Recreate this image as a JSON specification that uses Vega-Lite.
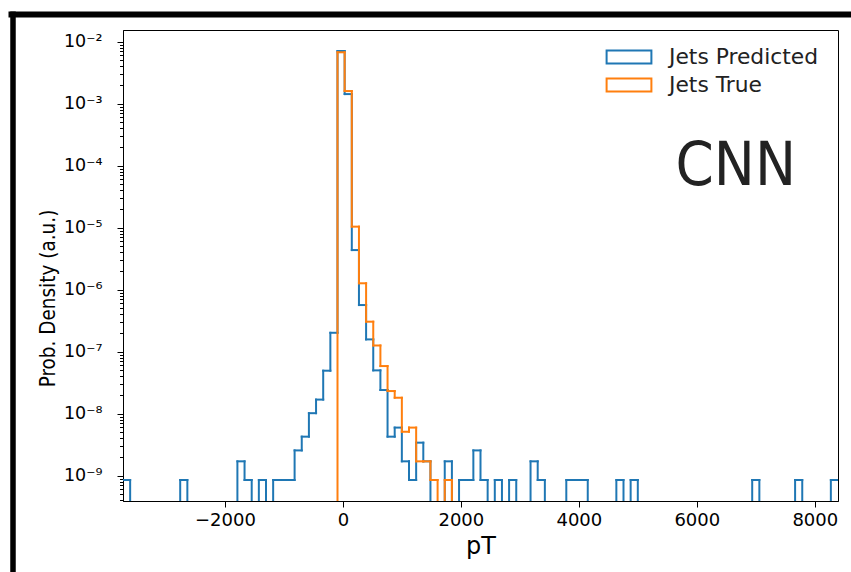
{
  "$schema": "https://vega.github.io/schema/vega-lite/v6.json",
  "autosize": "none",
  "width": 715,
  "height": 471,
  "padding": {"left": 123, "top": 30, "right": 13, "bottom": 71},
  "background": "white",
  "config": {
    "font": "DejaVu Sans",
    "view": {"stroke": "black", "strokeWidth": 1},
    "axis": {"domainColor": "black", "tickColor": "black", "labelColor": "black", "titleColor": "black", "grid": false, "labelFont": "DejaVu Sans", "titleFont": "DejaVu Sans", "titleFontWeight": "normal"},
    "legend": {"labelFont": "DejaVu Sans"}
  },
  "resolve": {"scale": {"x": "independent", "y": "independent"}},
  "layer": [
    {
      "layer": [
        {
          "data": {"values": [
            {"lo": -3727.0, "hi": -3605.8, "Jets Predicted": 8.53e-10, "Jets True": 0},
            {"lo": -3605.8, "hi": -3484.6, "Jets Predicted": 0, "Jets True": 0},
            {"lo": -3484.6, "hi": -3363.4, "Jets Predicted": 0, "Jets True": 0},
            {"lo": -3363.4, "hi": -3242.2, "Jets Predicted": 0, "Jets True": 0},
            {"lo": -3242.2, "hi": -3121.0, "Jets Predicted": 0, "Jets True": 0},
            {"lo": -3121.0, "hi": -2999.8, "Jets Predicted": 0, "Jets True": 0},
            {"lo": -2999.8, "hi": -2878.6, "Jets Predicted": 0, "Jets True": 0},
            {"lo": -2878.6, "hi": -2757.4, "Jets Predicted": 0, "Jets True": 0},
            {"lo": -2757.4, "hi": -2636.2, "Jets Predicted": 8.53e-10, "Jets True": 0},
            {"lo": -2636.2, "hi": -2515.0, "Jets Predicted": 0, "Jets True": 0},
            {"lo": -2515.0, "hi": -2393.8, "Jets Predicted": 0, "Jets True": 0},
            {"lo": -2393.8, "hi": -2272.6, "Jets Predicted": 0, "Jets True": 0},
            {"lo": -2272.6, "hi": -2151.4, "Jets Predicted": 0, "Jets True": 0},
            {"lo": -2151.4, "hi": -2030.2, "Jets Predicted": 0, "Jets True": 0},
            {"lo": -2030.2, "hi": -1909.0, "Jets Predicted": 0, "Jets True": 0},
            {"lo": -1909.0, "hi": -1787.8, "Jets Predicted": 0, "Jets True": 0},
            {"lo": -1787.8, "hi": -1666.6, "Jets Predicted": 1.706e-9, "Jets True": 0},
            {"lo": -1666.6, "hi": -1545.4, "Jets Predicted": 8.53e-10, "Jets True": 0},
            {"lo": -1545.4, "hi": -1424.2, "Jets Predicted": 0, "Jets True": 0},
            {"lo": -1424.2, "hi": -1303.0, "Jets Predicted": 8.53e-10, "Jets True": 0},
            {"lo": -1303.0, "hi": -1181.8, "Jets Predicted": 0, "Jets True": 0},
            {"lo": -1181.8, "hi": -1060.6, "Jets Predicted": 8.53e-10, "Jets True": 0},
            {"lo": -1060.6, "hi": -939.4, "Jets Predicted": 8.53e-10, "Jets True": 0},
            {"lo": -939.4, "hi": -818.2, "Jets Predicted": 8.53e-10, "Jets True": 0},
            {"lo": -818.2, "hi": -697.0, "Jets Predicted": 2.559e-9, "Jets True": 0},
            {"lo": -697.0, "hi": -575.8, "Jets Predicted": 4.265e-9, "Jets True": 0},
            {"lo": -575.8, "hi": -454.6, "Jets Predicted": 1.02e-8, "Jets True": 0},
            {"lo": -454.6, "hi": -333.4, "Jets Predicted": 1.69e-8, "Jets True": 0},
            {"lo": -333.4, "hi": -212.2, "Jets Predicted": 4.94e-8, "Jets True": 0},
            {"lo": -212.2, "hi": -91.0, "Jets Predicted": 2.02e-7, "Jets True": 0},
            {"lo": -91.0, "hi": 30.2, "Jets Predicted": 7.08e-3, "Jets True": 6.75e-3},
            {"lo": 30.2, "hi": 151.4, "Jets Predicted": 1.43e-3, "Jets True": 1.6e-3},
            {"lo": 151.4, "hi": 272.6, "Jets Predicted": 4.36e-6, "Jets True": 1.04e-5},
            {"lo": 272.6, "hi": 393.8, "Jets Predicted": 5.66e-7, "Jets True": 1.27e-6},
            {"lo": 393.8, "hi": 515.0, "Jets Predicted": 1.58e-7, "Jets True": 3.05e-7},
            {"lo": 515.0, "hi": 636.2, "Jets Predicted": 5.0e-8, "Jets True": 1.26e-7},
            {"lo": 636.2, "hi": 757.4, "Jets Predicted": 2.41e-8, "Jets True": 5.87e-8},
            {"lo": 757.4, "hi": 878.6, "Jets Predicted": 4.265e-9, "Jets True": 2.32e-8},
            {"lo": 878.6, "hi": 999.8, "Jets Predicted": 5.971e-9, "Jets True": 1.81e-8},
            {"lo": 999.8, "hi": 1121.0, "Jets Predicted": 1.706e-9, "Jets True": 5.118e-9},
            {"lo": 1121.0, "hi": 1242.2, "Jets Predicted": 8.53e-10, "Jets True": 5.971e-9},
            {"lo": 1242.2, "hi": 1363.4, "Jets Predicted": 3.412e-9, "Jets True": 1.706e-9},
            {"lo": 1363.4, "hi": 1484.6, "Jets Predicted": 1.706e-9, "Jets True": 1.706e-9},
            {"lo": 1484.6, "hi": 1605.8, "Jets Predicted": 0, "Jets True": 8.53e-10},
            {"lo": 1605.8, "hi": 1727.0, "Jets Predicted": 0, "Jets True": 0},
            {"lo": 1727.0, "hi": 1848.2, "Jets Predicted": 1.706e-9, "Jets True": 8.53e-10},
            {"lo": 1848.2, "hi": 1969.4, "Jets Predicted": 0, "Jets True": 0},
            {"lo": 1969.4, "hi": 2090.6, "Jets Predicted": 8.53e-10, "Jets True": 0},
            {"lo": 2090.6, "hi": 2211.8, "Jets Predicted": 8.53e-10, "Jets True": 0},
            {"lo": 2211.8, "hi": 2333.0, "Jets Predicted": 2.559e-9, "Jets True": 0},
            {"lo": 2333.0, "hi": 2454.2, "Jets Predicted": 8.53e-10, "Jets True": 0},
            {"lo": 2454.2, "hi": 2575.4, "Jets Predicted": 0, "Jets True": 0},
            {"lo": 2575.4, "hi": 2696.6, "Jets Predicted": 8.53e-10, "Jets True": 0},
            {"lo": 2696.6, "hi": 2817.8, "Jets Predicted": 0, "Jets True": 0},
            {"lo": 2817.8, "hi": 2939.0, "Jets Predicted": 8.53e-10, "Jets True": 0},
            {"lo": 2939.0, "hi": 3060.2, "Jets Predicted": 0, "Jets True": 0},
            {"lo": 3060.2, "hi": 3181.4, "Jets Predicted": 0, "Jets True": 0},
            {"lo": 3181.4, "hi": 3302.6, "Jets Predicted": 1.706e-9, "Jets True": 0},
            {"lo": 3302.6, "hi": 3423.8, "Jets Predicted": 8.53e-10, "Jets True": 0},
            {"lo": 3423.8, "hi": 3545.0, "Jets Predicted": 0, "Jets True": 0},
            {"lo": 3545.0, "hi": 3666.2, "Jets Predicted": 0, "Jets True": 0},
            {"lo": 3666.2, "hi": 3787.4, "Jets Predicted": 0, "Jets True": 0},
            {"lo": 3787.4, "hi": 3908.6, "Jets Predicted": 8.53e-10, "Jets True": 0},
            {"lo": 3908.6, "hi": 4029.8, "Jets Predicted": 8.53e-10, "Jets True": 0},
            {"lo": 4029.8, "hi": 4151.0, "Jets Predicted": 8.53e-10, "Jets True": 0},
            {"lo": 4151.0, "hi": 4272.2, "Jets Predicted": 0, "Jets True": 0},
            {"lo": 4272.2, "hi": 4393.4, "Jets Predicted": 0, "Jets True": 0},
            {"lo": 4393.4, "hi": 4514.6, "Jets Predicted": 0, "Jets True": 0},
            {"lo": 4514.6, "hi": 4635.8, "Jets Predicted": 0, "Jets True": 0},
            {"lo": 4635.8, "hi": 4757.0, "Jets Predicted": 8.53e-10, "Jets True": 0},
            {"lo": 4757.0, "hi": 4878.2, "Jets Predicted": 0, "Jets True": 0},
            {"lo": 4878.2, "hi": 4999.4, "Jets Predicted": 8.53e-10, "Jets True": 0},
            {"lo": 4999.4, "hi": 5120.6, "Jets Predicted": 0, "Jets True": 0},
            {"lo": 5120.6, "hi": 5241.8, "Jets Predicted": 0, "Jets True": 0},
            {"lo": 5241.8, "hi": 5363.0, "Jets Predicted": 0, "Jets True": 0},
            {"lo": 5363.0, "hi": 5484.2, "Jets Predicted": 0, "Jets True": 0},
            {"lo": 5484.2, "hi": 5605.4, "Jets Predicted": 0, "Jets True": 0},
            {"lo": 5605.4, "hi": 5726.6, "Jets Predicted": 0, "Jets True": 0},
            {"lo": 5726.6, "hi": 5847.8, "Jets Predicted": 0, "Jets True": 0},
            {"lo": 5847.8, "hi": 5969.0, "Jets Predicted": 0, "Jets True": 0},
            {"lo": 5969.0, "hi": 6090.2, "Jets Predicted": 0, "Jets True": 0},
            {"lo": 6090.2, "hi": 6211.4, "Jets Predicted": 0, "Jets True": 0},
            {"lo": 6211.4, "hi": 6332.6, "Jets Predicted": 0, "Jets True": 0},
            {"lo": 6332.6, "hi": 6453.8, "Jets Predicted": 0, "Jets True": 0},
            {"lo": 6453.8, "hi": 6575.0, "Jets Predicted": 0, "Jets True": 0},
            {"lo": 6575.0, "hi": 6696.2, "Jets Predicted": 0, "Jets True": 0},
            {"lo": 6696.2, "hi": 6817.4, "Jets Predicted": 0, "Jets True": 0},
            {"lo": 6817.4, "hi": 6938.6, "Jets Predicted": 0, "Jets True": 0},
            {"lo": 6938.6, "hi": 7059.8, "Jets Predicted": 8.53e-10, "Jets True": 0},
            {"lo": 7059.8, "hi": 7181.0, "Jets Predicted": 0, "Jets True": 0},
            {"lo": 7181.0, "hi": 7302.2, "Jets Predicted": 0, "Jets True": 0},
            {"lo": 7302.2, "hi": 7423.4, "Jets Predicted": 0, "Jets True": 0},
            {"lo": 7423.4, "hi": 7544.6, "Jets Predicted": 0, "Jets True": 0},
            {"lo": 7544.6, "hi": 7665.8, "Jets Predicted": 0, "Jets True": 0},
            {"lo": 7665.8, "hi": 7787.0, "Jets Predicted": 8.53e-10, "Jets True": 0},
            {"lo": 7787.0, "hi": 7908.2, "Jets Predicted": 0, "Jets True": 0},
            {"lo": 7908.2, "hi": 8029.4, "Jets Predicted": 0, "Jets True": 0},
            {"lo": 8029.4, "hi": 8150.6, "Jets Predicted": 0, "Jets True": 0},
            {"lo": 8150.6, "hi": 8271.8, "Jets Predicted": 0, "Jets True": 0},
            {"lo": 8271.8, "hi": 8393.0, "Jets Predicted": 8.53e-10, "Jets True": 0}
          ]},
          "transform": [
            {"fold": ["Jets Predicted", "Jets True"], "as": ["s", "d"]}
          ],
          "encoding": {
            "x": {
              "field": "lo", "type": "quantitative",
              "scale": {"domain": [-3727, 8393], "nice": false, "zero": false},
              "axis": {"title": "pT", "values": [-2000, 0, 2000, 4000, 6000, 8000], "format": "d", "labelFontSize": 18, "titleFontSize": 24, "tickSize": 6, "labelPadding": 4, "titlePadding": 5, "labelFlush": false}
            },
            "y": {
              "field": "d", "type": "quantitative",
              "scale": {"type": "log", "domain": [3.91e-10, 0.01545], "nice": false, "zero": false, "clamp": true},
              "axis": {
                "title": "Prob. Density (a.u.)",
                "titleFont": "'DejaVu Sans Condensed', 'DejaVu Sans'",
                "titleFontSize": 20.5,
                "titleAngle": 270,
                "titleAlign": "center",
                "titleBaseline": "bottom",
                "titleX": -65,
                "titleY": 268,
                "labelFontSize": 17.5,
                "labelOverlap": false,
                "labelFlush": false,
                "labelPadding": 15,
                "values": [4e-10, 5e-10, 6e-10, 7e-10, 8e-10, 9e-10, 1e-9, 2e-9, 3e-9, 4e-9, 5e-9, 6e-9, 7e-9, 8e-9, 9e-9, 1e-8, 2e-8, 3e-8, 4e-8, 5e-8, 6e-8, 7e-8, 8e-8, 9e-8, 1e-7, 2e-7, 3e-7, 4e-7, 5e-7, 6e-7, 7e-7, 8e-7, 9e-7, 1e-6, 2e-6, 3e-6, 4e-6, 5e-6, 6e-6, 7e-6, 8e-6, 9e-6, 1e-5, 2e-5, 3e-5, 4e-5, 5e-5, 6e-5, 7e-5, 8e-5, 9e-5, 1e-4, 2e-4, 3e-4, 4e-4, 5e-4, 6e-4, 7e-4, 8e-4, 9e-4, 1e-3, 2e-3, 3e-3, 4e-3, 5e-3, 6e-3, 7e-3, 8e-3, 9e-3, 1e-2],
                "tickSize": {"condition": {"test": "abs(log(datum.value)/LN10 - round(log(datum.value)/LN10)) < 0.001", "value": 6}, "value": 3.5},
                "labelExpr": "abs(log(datum.value)/LN10 - round(log(datum.value)/LN10)) < 0.001 ? '10⁻' + ['⁰','¹','²','³','⁴','⁵','⁶','⁷','⁸','⁹'][-round(log(datum.value)/LN10)] : ''"
              }
            },
            "color": {
              "field": "s", "type": "nominal",
              "scale": {"domain": ["Jets Predicted", "Jets True"], "range": ["#1f77b4", "#ff7f0e"]},
              "legend": {
                "title": null,
                "orient": "none",
                "legendX": 491,
                "legendY": 12,
                "padding": 0,
                "symbolType": "M-1.6,-0.47H1.6V0.47H-1.6Z",
                "symbolSize": 784,
                "symbolStrokeWidth": 2,
                "symbolFillColor": "transparent",
                "labelFontSize": 21.8,
                "labelOffset": 25,
                "labelColor": "#222222",
                "rowPadding": 1
              }
            }
          },
          "layer": [
            {
              "transform": [{"filter": "datum.s == 'Jets Predicted' && datum.d > 0"}],
              "mark": {"type": "rule", "strokeWidth": 2, "strokeCap": "square", "invalid": "show", "clip": true},
              "encoding": {"x2": {"field": "hi"}}
            },
            {
              "transform": [
                {"filter": "datum.s == 'Jets Predicted'"},
                {"window": [{"op": "lag", "field": "d", "as": "prev"}], "sort": [{"field": "lo", "order": "ascending"}]},
                {"filter": "datum.prev != null && (datum.d > 0 || datum.prev > 0)"}
              ],
              "mark": {"type": "rule", "strokeWidth": 2, "strokeCap": "square", "invalid": "show", "clip": true},
              "encoding": {"y2": {"field": "prev"}}
            },
            {
              "transform": [{"filter": "datum.s == 'Jets True' && datum.d > 0"}],
              "mark": {"type": "rule", "strokeWidth": 2, "strokeCap": "square", "invalid": "show", "clip": true},
              "encoding": {"x2": {"field": "hi"}}
            },
            {
              "transform": [
                {"filter": "datum.s == 'Jets True'"},
                {"window": [{"op": "lag", "field": "d", "as": "prev"}], "sort": [{"field": "lo", "order": "ascending"}]},
                {"filter": "datum.prev != null && (datum.d > 0 || datum.prev > 0)"}
              ],
              "mark": {"type": "rule", "strokeWidth": 2, "strokeCap": "square", "invalid": "show", "clip": true},
              "encoding": {"y2": {"field": "prev"}}
            }
          ]
        },
        {
          "data": {"values": [{"label": "CNN"}]},
          "mark": {"type": "text", "fontSize": 61, "align": "center", "baseline": "alphabetic", "font": "'DejaVu Sans Condensed', 'DejaVu Sans'", "color": "#222222"},
          "encoding": {
            "x": {"datum": 6659, "type": "quantitative"},
            "y": {"datum": 4.95e-5, "type": "quantitative"},
            "text": {"field": "label", "type": "nominal"}
          }
        }
      ]
    },
    {
      "data": {"values": [{}]},
      "mark": {"type": "point", "opacity": 0},
      "encoding": {
        "x": {"datum": 0, "type": "quantitative", "scale": {"domain": [0, 1], "range": [-115, 728]}, "axis": {"orient": "top", "offset": 16, "domainWidth": 6, "domainColor": "black", "ticks": false, "labels": false, "title": null, "grid": false}},
        "y": {"datum": 0, "type": "quantitative", "scale": {"domain": [0, 1], "range": [542, -19]}, "axis": {"orient": "left", "offset": 110.5, "domainWidth": 5.5, "domainColor": "black", "ticks": false, "labels": false, "title": null, "grid": false}}
      }
    }
  ]
}
